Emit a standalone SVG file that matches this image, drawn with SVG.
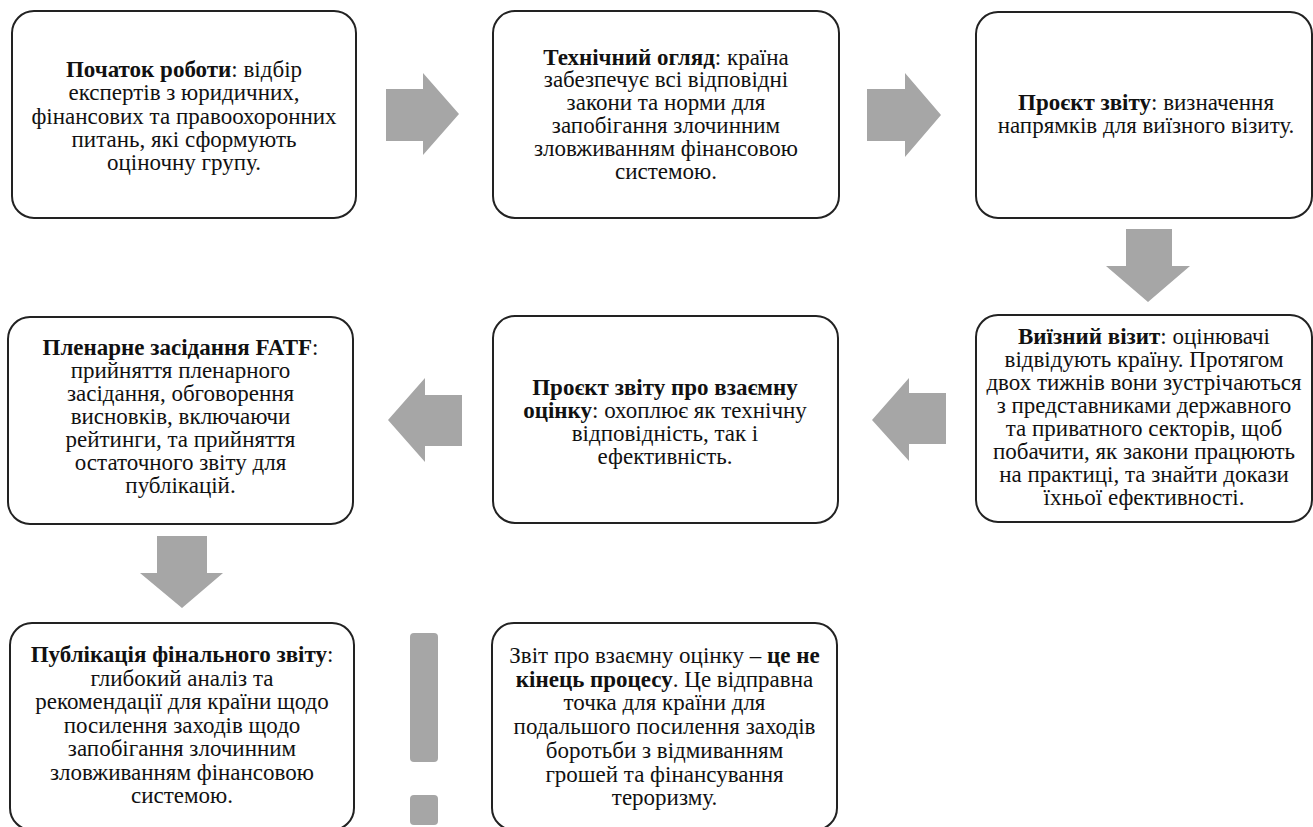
<svg xmlns="http://www.w3.org/2000/svg" width="1313" height="827" viewBox="0 0 1313 827">
<style>
.box{fill:#fff;stroke:#222;stroke-width:2}
.t{font-family:'Liberation Serif','Times New Roman',serif;font-size:23px;fill:#111;text-anchor:middle}
.b{font-weight:bold}
.arr{fill:#a6a6a6}
</style>
<rect width="1313" height="827" fill="#fff"/>
<g id="connectors">
<polygon class="arr" points="386,89 423,89 423,73 459,114 423,155 423,141 386,141"/>
<polygon class="arr" points="867,89 905,89 905,73 941,115 905,157 905,141 867,141"/>
<polygon class="arr" points="1126,229 1172,229 1172,266 1190,266 1148,302 1106,266 1126,266"/>
<polygon class="arr" points="946,393 909,393 909,378 872,420 909,461 909,444 946,444"/>
<polygon class="arr" points="462,395 425,395 425,378 388,420 425,462 425,446 462,446"/>
<polygon class="arr" points="157,536 207,536 207,573 223,573 182,608 140,573 157,573"/>
</g>
<g id="node1">
<rect class="box" x="12" y="11" width="344" height="207" rx="22"/>
<text class="t"><tspan x="184" y="77"><tspan class="b">Початок роботи</tspan>: відбір</tspan><tspan x="184" y="100.3">експертів з юридичних,</tspan><tspan x="184" y="123.6">фінансових та правоохоронних</tspan><tspan x="184" y="146.9">питань, які сформують</tspan><tspan x="184" y="170.2">оціночну групу.</tspan></text>
</g>
<g id="node2">
<rect class="box" x="493" y="11" width="346" height="207" rx="22"/>
<text class="t"><tspan x="666" y="64.5"><tspan class="b">Технічний огляд</tspan>: країна</tspan><tspan x="666" y="87.3">забезпечує всі відповідні</tspan><tspan x="666" y="110.1">закони та норми для</tspan><tspan x="666" y="132.9">запобігання злочинним</tspan><tspan x="666" y="155.7">зловживанням фінансовою</tspan><tspan x="666" y="178.5">системою.</tspan></text>
</g>
<g id="node3">
<rect class="box" x="976" y="12" width="336" height="206" rx="22"/>
<text class="t"><tspan x="1146" y="110"><tspan class="b">Проєкт звіту</tspan>: визначення</tspan><tspan x="1146" y="133">напрямків для виїзного візиту.</tspan></text>
</g>
<g id="node4">
<rect class="box" x="976" y="315" width="336" height="207" rx="22"/>
<text class="t"><tspan x="1144" y="344"><tspan class="b">Виїзний візит</tspan>: оцінювачі</tspan><tspan x="1144" y="367">відвідують країну. Протягом</tspan><tspan x="1144" y="390">двох тижнів вони зустрічаються</tspan><tspan x="1144" y="413">з представниками державного</tspan><tspan x="1144" y="436">та приватного секторів, щоб</tspan><tspan x="1144" y="459">побачити, як закони працюють</tspan><tspan x="1144" y="482">на практиці, та знайти докази</tspan><tspan x="1144" y="505">їхньої ефективності.</tspan></text>
</g>
<g id="node5">
<rect class="box" x="493" y="316" width="345" height="207" rx="22"/>
<text class="t"><tspan x="665" y="395" class="b">Проєкт звіту про взаємну</tspan><tspan x="665" y="418"><tspan class="b">оцінку</tspan>: охоплює як технічну</tspan><tspan x="665" y="441">відповідність, так і</tspan><tspan x="665" y="464">ефективність.</tspan></text>
</g>
<g id="node6">
<rect class="box" x="8" y="317" width="345" height="207" rx="22"/>
<text class="t"><tspan x="180.5" y="355"><tspan class="b">Пленарне засідання FATF</tspan>:</tspan><tspan x="180.5" y="378">прийняття пленарного</tspan><tspan x="180.5" y="401">засідання, обговорення</tspan><tspan x="180.5" y="424">висновків, включаючи</tspan><tspan x="180.5" y="447">рейтинги, та прийняття</tspan><tspan x="180.5" y="470">остаточного звіту для</tspan><tspan x="180.5" y="493">публікацій.</tspan></text>
</g>
<g id="node7">
<rect class="box" x="10" y="623" width="344" height="207" rx="22"/>
<text class="t"><tspan x="182" y="662"><tspan class="b">Публікація фінального звіту</tspan>:</tspan><tspan x="182" y="685.5">глибокий аналіз та</tspan><tspan x="182" y="709">рекомендації для країни щодо</tspan><tspan x="182" y="732.5">посилення заходів щодо</tspan><tspan x="182" y="756">запобігання злочинним</tspan><tspan x="182" y="779.5">зловживанням фінансовою</tspan><tspan x="182" y="803">системою.</tspan></text>
</g>
<g id="exclamation">
<rect class="arr" x="410" y="633" width="28" height="129" rx="4"/>
<rect class="arr" x="410" y="795" width="28" height="30" rx="4"/>
</g>
<g id="node8">
<rect class="box" x="492" y="623" width="345" height="207" rx="22"/>
<text class="t"><tspan x="664.5" y="663">Звіт про взаємну оцінку – <tspan class="b">це не</tspan></tspan><tspan x="664.5" y="686.7"><tspan class="b">кінець процесу</tspan>. Це відправна</tspan><tspan x="664.5" y="710.4">точка для країни для</tspan><tspan x="664.5" y="734.1">подальшого посилення заходів</tspan><tspan x="664.5" y="757.8">боротьби з відмиванням</tspan><tspan x="664.5" y="781.5">грошей та фінансування</tspan><tspan x="664.5" y="805.2">тероризму.</tspan></text>
</g>
</svg>
